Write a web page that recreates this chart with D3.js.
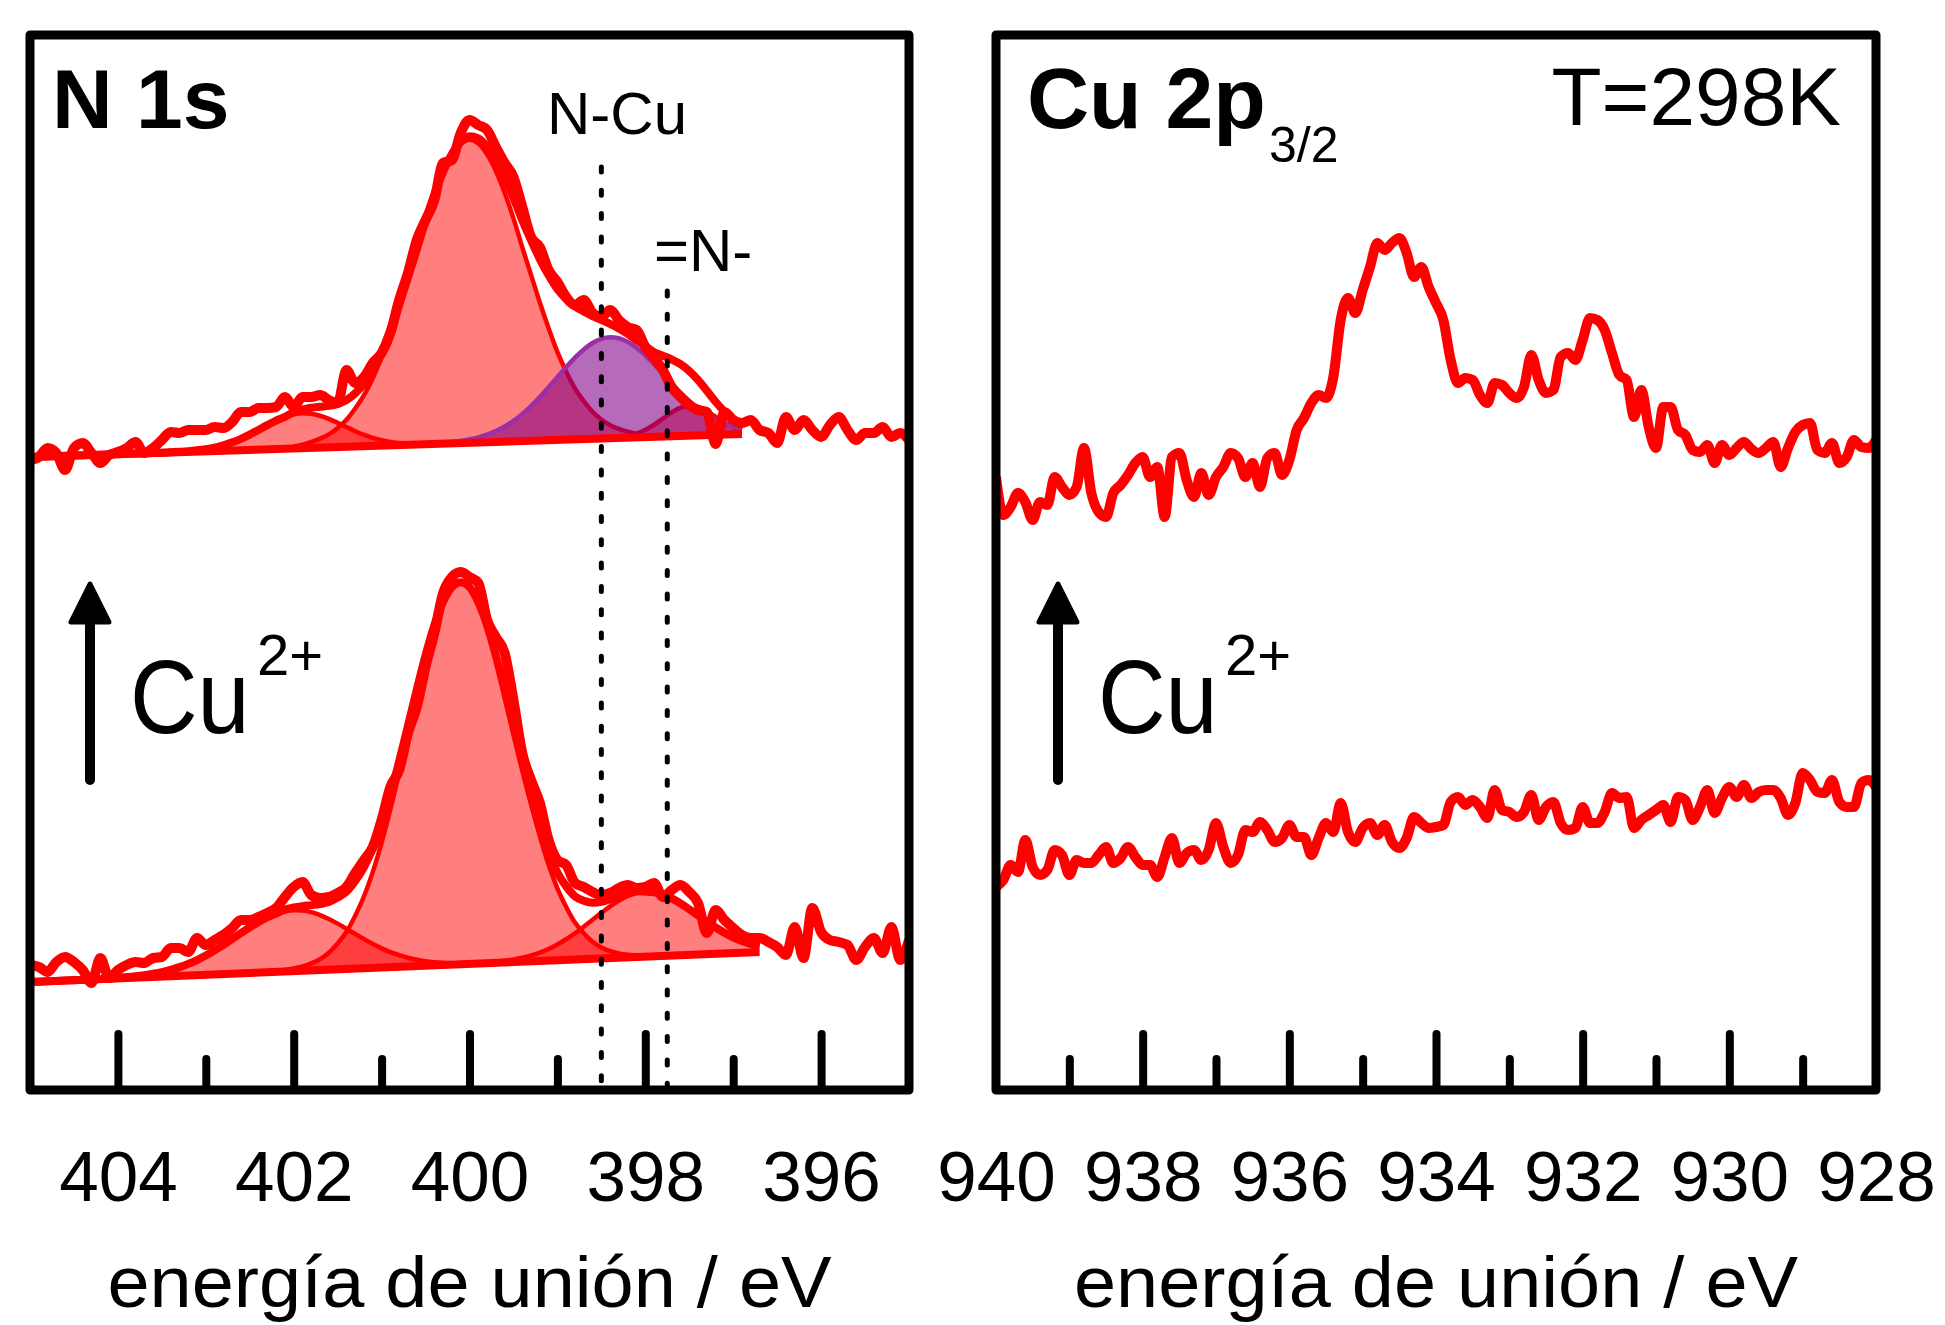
<!DOCTYPE html>
<html>
<head>
<meta charset="utf-8">
<script src="https://cdn.jsdelivr.net/npm/d3@7"></script>
<style>
  body { margin: 0; background: #fff; }
  text { font-family: "Liberation Sans", Arial, sans-serif; }
</style>
</head>
<body>
<div id="chart"></div>
<script>
var width = 1945;
var height = 1325;

// ---- data ----
// N 1s spectra, 405.0 -> 395.0 eV every 0.1 eV (a.u.)
var n1sStart = 405.0, n1sStep = 0.1;
var n1sTopRaw = [
  63.2, 63.5, 64.4, 63.9, 62.2, 64.4, 64.9, 63.9, 62.9, 63.7,
  64.0, 64.4, 65.0, 63.9, 64.4, 65.2, 66.0, 65.9, 66.2, 66.2,
  66.2, 66.5, 66.4, 67.0, 68.0, 68.0, 68.4, 68.4, 68.5, 69.5,
  68.5, 69.5, 69.5, 69.7, 69.2, 68.9, 72.2, 70.9, 71.5, 72.9,
  73.9, 75.9, 79.2, 81.9, 85.2, 87.2, 89.2, 92.9, 93.2, 95.9,
  97.2, 96.7, 96.2, 94.5, 92.9, 91.5, 88.5, 85.5, 84.5, 82.2,
  81.0, 79.5, 78.7, 79.2, 77.9, 77.5, 78.2, 77.2, 76.5, 76.2,
  74.5, 73.4, 72.2, 70.5, 69.5, 68.7, 68.2, 68.0, 64.8, 68.0,
  67.2, 66.9, 67.2, 66.2, 65.9, 64.9, 67.5, 66.2, 67.2, 66.2,
  65.5, 66.7, 67.5, 66.2, 65.2, 65.9, 65.9, 66.5, 65.5, 65.9,
  65.2];
var n1sBotRaw = [
  12.7, 12.5, 12.0, 13.0, 13.5, 13.0, 12.2, 10.9, 13.4, 11.4,
  12.2, 12.7, 13.0, 12.9, 13.4, 13.5, 14.4, 14.4, 14.0, 15.4,
  14.7, 15.2, 15.7, 16.4, 17.2, 17.2, 17.5, 17.9, 18.4, 19.5,
  20.5, 21.0, 19.7, 19.4, 19.5, 19.9, 20.5, 21.9, 23.2, 24.5,
  27.2, 30.5, 32.2, 35.9, 38.5, 42.5, 45.9, 49.9, 51.5, 52.0,
  51.5, 50.9, 47.2, 45.5, 43.9, 39.2, 33.9, 31.2, 28.9, 25.2,
  23.2, 22.7, 20.9, 20.5, 20.0, 19.7, 19.9, 20.4, 20.7, 20.4,
  20.5, 20.9, 19.5, 20.2, 20.7, 20.0, 18.9, 15.9, 18.2, 17.2,
  16.4, 15.7, 15.4, 15.4, 15.0, 14.5, 13.7, 16.5, 13.4, 18.4,
  16.0, 15.2, 15.0, 14.7, 13.2, 14.5, 15.4, 13.9, 16.5, 13.2,
  15.2];

// fit backgrounds [eV, a.u.] (straight lines over the fit range)
var n1sTopBg = [[405.0, 63.5], [396.9, 65.8]];
var n1sBotBg = [[405.0, 11.0], [396.7, 14.0]];

// fit components: centre (eV) and height above background every 0.1 eV from the centre
var n1sTopCentres = [401.9, 400.0, 397.5, 398.4];
var n1sTopKinds = ["red", "red", "red", "purple"];
var n1sTopC1 = [3.50, 3.42, 3.19, 2.85, 2.42, 1.97, 1.53, 1.14, 0.81, 0.55, 0.35, 0.22, 0.13, 0.07, 0.04, 0.02];
var n1sTopC2 = [30.3, 29.9, 28.8, 27.1, 24.9, 22.3, 19.4, 16.6, 13.8, 11.2, 8.8, 6.8, 5.1, 3.8, 2.7, 1.9, 1.3, 0.9, 0.6, 0.35, 0.2];
var n1sTopC4 = [3.0, 2.84, 2.39, 1.80, 1.21, 0.73, 0.39, 0.19, 0.08, 0.03];
var n1sTopC3 = [10.1, 9.97, 9.58, 8.97, 8.18, 7.26, 6.28, 5.29, 4.34, 3.47, 2.70, 2.05, 1.51, 1.09, 0.76, 0.52, 0.35, 0.22, 0.14, 0.08, 0.05];

var n1sBotCentres = [402.0, 400.1, 398.0];
var n1sBotKinds = ["red", "red", "red"];
var n1sBotL1 = [6.1, 6.03, 5.83, 5.50, 5.07, 4.57, 4.03, 3.47, 2.91, 2.40, 1.92, 1.51, 1.16, 0.87, 0.64, 0.45, 0.32, 0.22, 0.15, 0.10, 0.06];
var n1sBotL2 = [38.1, 37.6, 36.1, 33.7, 30.6, 27.0, 23.2, 19.4, 15.8, 12.5, 9.6, 7.2, 5.3, 3.7, 2.6, 1.7, 1.1, 0.7, 0.44, 0.27, 0.16];
var n1sBotL3 = [6.5, 6.41, 6.14, 5.72, 5.18, 4.56, 3.91, 3.25, 2.63, 2.07, 1.58, 1.17, 0.85, 0.60, 0.41, 0.27, 0.17, 0.11, 0.07, 0.04, 0.02];

// Cu 2p3/2 spectra, 940.0 -> 928.0 eV every 0.1 eV (a.u.)
var cuStart = 940.0, cuStep = 0.1;
var cuTopRaw = [
  61.5, 57.7, 58.5, 59.9, 59.0, 57.2, 59.0, 58.7, 61.5, 60.5,
  59.7, 60.5, 64.4, 59.9, 58.0, 57.5, 59.9, 60.7, 61.7, 62.9,
  63.5, 61.5, 62.5, 57.5, 63.5, 63.9, 61.2, 59.5, 61.9, 59.7,
  61.5, 62.5, 63.9, 63.4, 61.5, 62.9, 60.5, 63.4, 63.9, 61.7,
  63.2, 66.2, 67.4, 68.9, 69.7, 69.4, 71.5, 77.2, 79.4, 77.9,
  80.2, 82.5, 84.9, 84.2, 84.9, 85.4, 83.9, 81.5, 82.5, 80.5,
  78.9, 77.2, 73.2, 70.9, 71.4, 71.2, 69.7, 68.9, 70.9, 70.7,
  69.9, 69.4, 70.5, 73.7, 71.2, 69.9, 70.2, 73.5, 73.9, 73.2,
  75.2, 77.4, 77.2, 76.2, 73.9, 71.7, 71.2, 67.5, 70.2, 66.5,
  64.4, 68.5, 68.5, 66.2, 65.7, 64.2, 64.0, 64.7, 62.9, 64.7,
  63.7, 64.4, 65.0, 64.3, 63.9, 64.4, 65.0, 62.5, 64.4, 66.0,
  66.7, 66.9, 64.2, 63.9, 64.9, 62.9, 63.5, 65.2, 64.5, 64.4,
  65.2];
var cuBotRaw = [
  20.5, 21.2, 22.7, 22.0, 25.2, 22.5, 21.7, 22.2, 24.2, 23.7,
  21.7, 23.2, 22.9, 22.9, 23.7, 24.5, 22.9, 23.4, 24.5, 23.5,
  22.7, 22.7, 21.5, 23.5, 25.4, 22.9, 23.9, 24.2, 23.2, 24.2,
  26.9, 24.5, 22.9, 23.7, 26.2, 26.0, 27.0, 26.2, 25.0, 25.4,
  26.7, 25.5, 25.5, 23.7, 25.4, 26.9, 26.0, 28.9, 26.0, 25.0,
  26.4, 26.9, 25.7, 26.7, 25.0, 24.4, 25.4, 27.5, 26.9, 26.4,
  26.5, 26.7, 29.0, 29.5, 28.7, 29.2, 28.5, 27.4, 30.2, 28.2,
  28.0, 27.5, 28.0, 29.7, 27.2, 28.5, 29.0, 26.9, 26.2, 26.4,
  28.5, 26.9, 26.9, 28.0, 29.9, 29.4, 29.5, 26.4, 27.2, 27.7,
  28.2, 28.7, 27.0, 29.5, 29.2, 27.2, 28.5, 30.2, 27.9, 29.4,
  30.5, 29.5, 30.7, 29.4, 30.0, 30.2, 30.2, 29.4, 27.7, 28.9,
  31.9, 31.2, 30.0, 29.9, 31.2, 29.0, 28.5, 28.5, 30.9, 31.2,
  30.5];

// axes
var n1sDomain = [405, 395];
var n1sMajor = [404, 402, 400, 398, 396];
var n1sMinor = [403, 401, 399, 397];
var cuDomain = [940, 928];
var cuLabels = [940, 938, 936, 934, 932, 930, 928];
var cuMajor = [938, 936, 934, 932, 930];
var cuMinor = [939, 937, 935, 933, 931, 929];
var markerEnergies = [398.5, 397.75];
var markerNames = ["N-Cu", "=N-"];

// ---- layout ----
var plotTop = 35, plotBottom = 1090;
var xN = d3.scaleLinear().domain(n1sDomain).range([30, 909]);
var xCu = d3.scaleLinear().domain(cuDomain).range([996, 1876]);
var y = d3.scaleLinear().domain([0, 105.7]).range([1092, 35]);

var svg = d3.select("#chart")
  .append("svg")
  .attr("width", width)
  .attr("height", height)
  .style("background", "#fff");

var defs = svg.append("defs");
defs.append("clipPath").attr("id", "clipN")
  .append("rect").attr("x", 30).attr("y", plotTop).attr("width", 879).attr("height", plotBottom - plotTop);
defs.append("clipPath").attr("id", "clipCu")
  .append("rect").attr("x", 996).attr("y", plotTop).attr("width", 880).attr("height", plotBottom - plotTop);

function toPoints(vals, start, step) {
  return vals.map(function(v, i) { return [Math.round((start - i * step) * 10) / 10, v]; });
}

function rawLine(x) {
  return d3.line().x(function(d) { return x(d[0]); }).y(function(d) { return y(d[1]); })
    .curve(d3.curveMonotoneX);
}

function profileAt(prof, centre, e) {
  var k = Math.round(Math.abs(e - centre) * 10);
  return k < prof.length ? prof[k] : 0;
}

// one fitted N 1s spectrum
function drawFit(g, raw, bgPts, centres, profs, kinds) {
  var bg = d3.scaleLinear().domain([bgPts[0][0], bgPts[1][0]]).range([bgPts[0][1], bgPts[1][1]]);
  var eHi = bgPts[0][0], eLo = bgPts[1][0];

  var area = d3.area()
    .x(function(d) { return xN(d[0]); })
    .y0(function(d) { return y(bg(d[0])); })
    .y1(function(d) { return y(bg(d[0]) + d[1]); })
    .curve(d3.curveMonotoneX);
  var outline = d3.line()
    .x(function(d) { return xN(d[0]); })
    .y(function(d) { return y(bg(d[0]) + d[1]); })
    .curve(d3.curveMonotoneX);

  // red components first, purple on top
  ["red", "purple"].forEach(function(kind) {
    centres.forEach(function(c, j) {
      if (kinds[j] !== kind) return;
      var prof = profs[j], pts = [];
      for (var i = -(prof.length - 1); i <= prof.length - 1; i++) {
        var e = Math.round((c - i * 0.1) * 10) / 10;
        if (e <= eHi && e >= eLo) pts.push([e, prof[Math.abs(i)]]);
      }
      g.append("path").datum(pts)
        .attr("d", area)
        .attr("fill", kind === "red" ? "rgba(255,0,0,0.5)" : "rgba(128,0,135,0.58)")
        .attr("stroke", "none");
      g.append("path").datum(pts)
        .attr("d", outline)
        .attr("fill", "none")
        .attr("stroke", kind === "red" ? "#ff0000" : "#9a2fa8")
        .attr("stroke-width", 4.5);
    });
  });

  // background line
  g.append("path").datum(bgPts)
    .attr("d", d3.line().x(function(d) { return xN(d[0]); }).y(function(d) { return y(d[1]); }))
    .attr("fill", "none").attr("stroke", "#ff0000").attr("stroke-width", 8);

  // envelope = background + sum of components
  var env = [];
  for (var k = 0; ; k++) {
    var e = Math.round((eHi - k * 0.1) * 10) / 10;
    if (e < eLo) break;
    var s = bg(e);
    centres.forEach(function(c, j) { s += profileAt(profs[j], c, e); });
    env.push([e, s]);
  }
  g.append("path").datum(env)
    .attr("d", rawLine(xN))
    .attr("fill", "none").attr("stroke", "#ff0000").attr("stroke-width", 8)
    .attr("stroke-linejoin", "round");

  // measured data
  g.append("path").datum(raw)
    .attr("d", rawLine(xN))
    .attr("fill", "none").attr("stroke", "#ff0000").attr("stroke-width", 10)
    .attr("stroke-linejoin", "round");
}

// ---- left panel: N 1s ----
var gN = svg.append("g").attr("clip-path", "url(#clipN)");
drawFit(gN, toPoints(n1sTopRaw, n1sStart, n1sStep), n1sTopBg, n1sTopCentres,
  [n1sTopC1, n1sTopC2, n1sTopC4, n1sTopC3], n1sTopKinds);
drawFit(gN, toPoints(n1sBotRaw, n1sStart, n1sStep), n1sBotBg, n1sBotCentres,
  [n1sBotL1, n1sBotL2, n1sBotL3], n1sBotKinds);

// dotted marker lines
var markerTops = [167, 291];
svg.selectAll(".marker")
  .data(markerEnergies)
  .enter().append("line")
  .attr("class", "marker")
  .attr("x1", function(d) { return xN(d); })
  .attr("x2", function(d) { return xN(d); })
  .attr("y1", function(d, i) { return markerTops[i]; })
  .attr("y2", plotBottom)
  .attr("stroke", "#000")
  .attr("stroke-width", 5)
  .attr("stroke-linecap", "round")
  .attr("stroke-dasharray", "5 18.3");

// ---- right panel: Cu 2p3/2 ----
var gCu = svg.append("g").attr("clip-path", "url(#clipCu)");
[cuTopRaw, cuBotRaw].forEach(function(vals) {
  gCu.append("path").datum(toPoints(vals, cuStart, cuStep))
    .attr("d", rawLine(xCu))
    .attr("fill", "none").attr("stroke", "#ff0000").attr("stroke-width", 10)
    .attr("stroke-linejoin", "round");
});

// ---- frames and axes ----
function frame(x) {
  var r = x.range();
  svg.append("rect")
    .attr("x", r[0]).attr("y", plotTop)
    .attr("width", r[1] - r[0]).attr("height", plotBottom - plotTop)
    .attr("fill", "none").attr("stroke", "#000").attr("stroke-width", 9)
    .attr("stroke-linejoin", "round");
}

function ticks(x, values, size) {
  var g = svg.append("g")
    .attr("transform", "translate(0," + plotBottom + ")")
    .call(d3.axisTop(x).tickValues(values).tickSize(size).tickFormat(""));
  g.select(".domain").remove();
  g.selectAll(".tick line")
    .attr("stroke", "#000").attr("stroke-width", 8).attr("stroke-linecap", "round");
}

function labels(x, values) {
  var g = svg.append("g")
    .attr("transform", "translate(0," + plotBottom + ")")
    .call(d3.axisBottom(x).tickValues(values).tickSize(0).tickPadding(61).tickFormat(d3.format("d")));
  g.select(".domain").remove();
  g.attr("font-size", null).attr("font-family", null);
  g.selectAll(".tick text")
    .attr("fill", "#000")
    .style("font-size", "71px")
    .style("font-family", "'Liberation Sans', Arial, sans-serif");
}

ticks(xN, n1sMajor, 56);
ticks(xN, n1sMinor, 31);
labels(xN, n1sMajor);
ticks(xCu, cuMajor, 56);
ticks(xCu, cuMinor, 31);
labels(xCu, cuLabels);
frame(xN);
frame(xCu);

// axis titles
[xN, xCu].forEach(function(x) {
  var r = x.range();
  svg.append("text")
    .attr("x", (r[0] + r[1]) / 2).attr("y", 1307)
    .attr("text-anchor", "middle")
    .attr("font-size", 73)
    .attr("textLength", 724).attr("lengthAdjust", "spacingAndGlyphs")
    .text("energía de unión / eV");
});

// panel titles
svg.append("text").attr("x", 52).attr("y", 128)
  .attr("font-size", 84).attr("font-weight", "bold").text("N 1s");
svg.append("text").attr("x", 1027).attr("y", 128)
  .attr("font-size", 86).attr("font-weight", "bold").text("Cu 2p");
svg.append("text").attr("x", 1269).attr("y", 162)
  .attr("font-size", 50).text("3/2");
svg.append("text").attr("x", 1841).attr("y", 125)
  .attr("text-anchor", "end").attr("font-size", 82).text("T=298K");

// peak labels
var markerLabelPos = [[547, 134], [654, 271]];
markerNames.forEach(function(name, i) {
  svg.append("text")
    .attr("x", markerLabelPos[i][0]).attr("y", markerLabelPos[i][1])
    .attr("font-size", 60).text(name);
});

// Cu2+ arrows
[[90, 130], [1058, 1098]].forEach(function(p) {
  var ax = p[0];
  svg.append("line")
    .attr("x1", ax).attr("x2", ax).attr("y1", 780).attr("y2", 610)
    .attr("stroke", "#000").attr("stroke-width", 10).attr("stroke-linecap", "round");
  svg.append("path")
    .attr("d", "M" + ax + ",584 L" + (ax - 19) + ",622 L" + (ax + 19) + ",622 Z")
    .attr("fill", "#000").attr("stroke", "#000").attr("stroke-width", 5)
    .attr("stroke-linejoin", "round");
  svg.append("text")
    .attr("transform", "translate(" + p[1] + ",733) scale(0.9,1)")
    .attr("font-size", 104).text("Cu");
  svg.append("text")
    .attr("x", p[1] + 127).attr("y", 675)
    .attr("font-size", 58).text("2+");
});
</script>
</body>
</html>
